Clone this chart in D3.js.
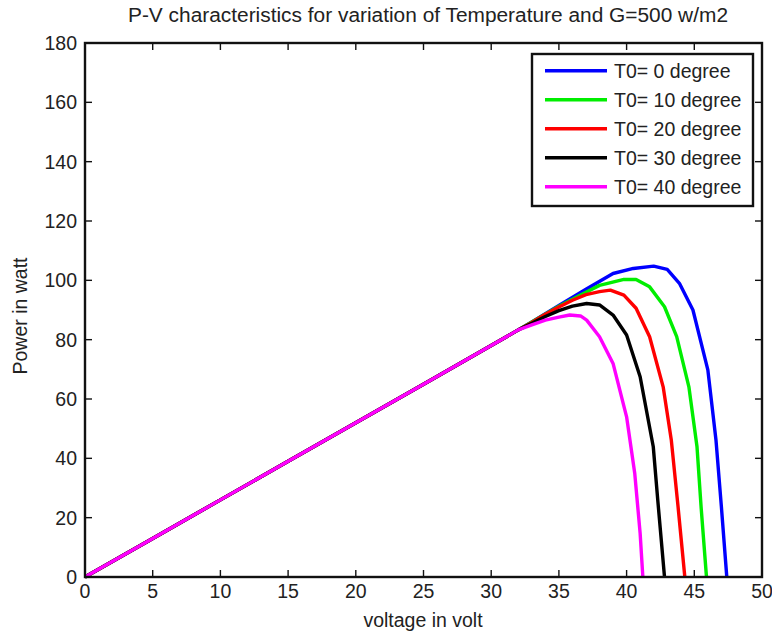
<!DOCTYPE html>
<html><head><meta charset="utf-8">
<script src="https://cdn.jsdelivr.net/npm/d3@7"></script>
<style>body{margin:0;background:#fff;}svg{display:block;font-family:"Liberation Sans",Arial,sans-serif;}</style>
</head><body>
<svg id="c" width="772" height="634"></svg>
<script>
const title = "P-V characteristics for variation of Temperature and G=500 w/m2";
const xLabel = "voltage in volt";
const yLabel = "Power in watt";
const xTicks = [0,5,10,15,20,25,30,35,40,45,50];
const yTicks = [0,20,40,60,80,100,120,140,160,180];
const seriesNames = ["T0= 0 degree","T0= 10 degree","T0= 20 degree","T0= 30 degree","T0= 40 degree"];
const seriesColors = ["#0000ff","#00ee00","#ff0000","#000000","#ff00ff"];
const sharedV = [0,5,10,15,20,25,30,32];
const sharedP = [0,13,26,39,52,65,78,83.3];
const t0V = [33,35,37,39,40.5,42,43,43.9,44.9,46,46.6,47,47.4];
const t0P = [86,91.5,97,102.3,104,104.8,103.7,99,90,69.8,46.2,23.7,0];
const t10V = [33,35,37,38,39.8,40.7,41.7,42.8,43.7,44.6,45.2,45.5,45.9];
const t10P = [86,91.3,96,98.3,100.3,100.3,97.8,91.1,81,64.1,43.9,23.7,0];
const t20V = [33,34,35,36,37,38,38.8,39.8,40.7,41.7,42.7,43.3,43.8,44.3];
const t20P = [85.8,88.6,91,93.3,95.2,96.2,96.7,95,90.6,81,64.1,46.2,23.7,0];
const t30V = [33,34,35,36,37.05,38,39,40,41,41.97,42.3,42.8];
const t30P = [85.5,87.8,89.8,91.3,92.2,91.7,88.3,81.6,67.5,43.9,26,0];
const t40V = [33,34,35,35.8,36.6,37.05,38,39,40,40.6,41,41.2];
const t40P = [85,86.6,87.6,88.3,88,86.6,81,72,54,35,14.7,0];

const allV = [t0V,t10V,t20V,t30V,t40V];
const allP = [t0P,t10P,t20P,t30P,t40P];

const svg = d3.select("#c");
const L=85, R=762, T=43, B=577;
const FS = 19.5;
const x = d3.scaleLinear().domain([0,50]).range([L,R]);
const y = d3.scaleLinear().domain([0,180]).range([B,T]);

svg.append("text").attr("x",428).attr("y",22).attr("text-anchor","middle")
  .attr("font-size",FS).attr("fill","#222").attr("textLength",600).attr("lengthAdjust","spacingAndGlyphs").text(title);

const line = d3.line().x(d=>x(d[0])).y(d=>y(d[1]));
svg.append("clipPath").attr("id","cp").append("rect")
  .attr("x",L).attr("y",T).attr("width",R-L).attr("height",B-T+2);

for (let i=0;i<5;i++){
  const pts = sharedV.map((v,k)=>[v,sharedP[k]]).concat(allV[i].map((v,k)=>[v,allP[i][k]]));
  svg.append("path").datum(pts).attr("d",line).attr("fill","none")
    .attr("stroke",seriesColors[i]).attr("stroke-width",3.4).attr("stroke-linejoin","round")
    .attr("clip-path","url(#cp)");
}

const g = svg.append("g").attr("stroke","#111").attr("stroke-width",2.4);
g.append("rect").attr("x",L).attr("y",T).attr("width",R-L).attr("height",B-T).attr("fill","none");
xTicks.forEach(t=>{
  g.append("line").attr("x1",x(t)).attr("x2",x(t)).attr("y1",B).attr("y2",B-7).attr("stroke-width",1.4);
  g.append("line").attr("x1",x(t)).attr("x2",x(t)).attr("y1",T).attr("y2",T+7).attr("stroke-width",1.4);
});
yTicks.forEach(t=>{
  g.append("line").attr("x1",L).attr("x2",L+7).attr("y1",y(t)).attr("y2",y(t)).attr("stroke-width",1.4);
  g.append("line").attr("x1",R).attr("x2",R-7).attr("y1",y(t)).attr("y2",y(t)).attr("stroke-width",1.4);
});
xTicks.forEach(t=>{
  svg.append("text").attr("x",x(t)).attr("y",B+21).attr("text-anchor","middle")
    .attr("font-size",FS).attr("fill","#222").text(t);
});
yTicks.forEach(t=>{
  svg.append("text").attr("x",L-8).attr("y",y(t)+7).attr("text-anchor","end")
    .attr("font-size",FS).attr("fill","#222").text(t);
});
svg.append("text").attr("x",423).attr("y",627).attr("text-anchor","middle")
  .attr("font-size",FS).attr("fill","#222").text(xLabel);
svg.append("text").attr("transform",`translate(27,316) rotate(-90)`).attr("text-anchor","middle")
  .attr("font-size",FS).attr("fill","#222").text(yLabel);

const lg = svg.append("g");
lg.append("rect").attr("x",532).attr("y",54).attr("width",221).attr("height",152)
  .attr("fill","#fff").attr("stroke","#111").attr("stroke-width",2.4);
seriesNames.forEach((n,i)=>{
  const yy = 70.7 + i*29;
  lg.append("line").attr("x1",545).attr("x2",607).attr("y1",yy).attr("y2",yy)
    .attr("stroke",seriesColors[i]).attr("stroke-width",3.4);
  lg.append("text").attr("x",614).attr("y",yy+7).attr("font-size",FS).attr("fill","#222").text(n);
});
</script>
</body></html>
